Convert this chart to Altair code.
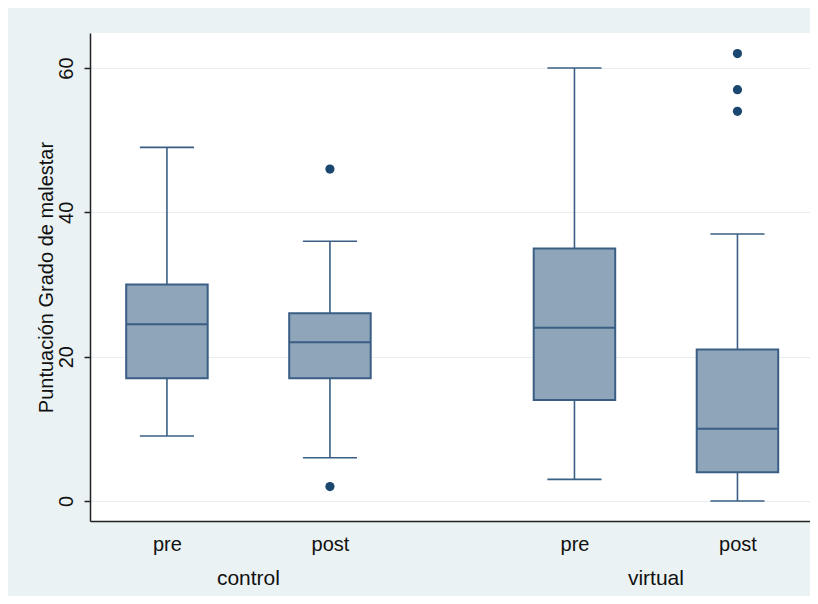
import altair as alt
import pandas as pd

# ---- data ----
groups = ["control", "control", "virtual", "virtual"]
phases = ["pre", "post", "pre", "post"]
positions = [1.0, 2.0, 3.5, 4.5]
whisk_lo = [9, 6, 3, 0]
q1 = [17, 17, 14, 4]
median = [24.5, 22, 24, 10]
q3 = [30, 26, 35, 21]
whisk_hi = [49, 36, 60, 37]
outlier_pos = [2.0, 2.0, 4.5, 4.5, 4.5]
outlier_val = [46, 2, 62, 57, 54]
group_names = ["control", "virtual"]
group_centers = [1.5, 4.0]
y_ticks = [0, 20, 40, 60]

NAVY = "#1a476f"
LINE = "#3a5e84"
FILL = "#8fa5ba"
BG = "#eaf2f3"
FONT = "Liberation Sans"

boxes = pd.DataFrame({
    "group": groups, "phase": phases, "pos": positions,
    "lo": whisk_lo, "q1": q1, "med": median, "q3": q3, "hi": whisk_hi,
})
outs = pd.DataFrame({"pos": outlier_pos, "val": outlier_val})
glab = pd.DataFrame({"name": group_names, "pos": group_centers})

xdom = [0.528, 4.945]
ydom = [-2.77, 64.85]

label_expr = " : ".join(
    f"datum.value == {p} ? '{ph}'" for p, ph in zip(positions, phases)
) + " : ''"

xscale = alt.Scale(domain=xdom, nice=False, zero=False)
yscale = alt.Scale(domain=ydom, nice=False, zero=False)

xenc = alt.X("pos:Q", scale=xscale, axis=alt.Axis(
    values=positions, labelExpr=label_expr, title=None, grid=False,
    ticks=False, tickSize=0, labelPadding=29, labelBaseline="alphabetic",
    labelFontSize=20, labelColor="#111111", labelFont=FONT,
    domainColor="#222222", domainWidth=1.5, labelFlush=False))

base = alt.Chart(boxes).transform_calculate(
    left="datum.pos - 0.25", right="datum.pos + 0.25",
    cl="datum.pos - 0.166", cr="datum.pos + 0.166")

yaxis = alt.Axis(values=y_ticks, title="Puntuación Grado de malestar",
                 grid=True, gridColor="#e6eef0", gridWidth=1.2,
                 tickSize=6, tickColor="#222222", tickWidth=1.5,
                 domainColor="#222222", domainWidth=1.5,
                 labelAngle=270, labelAlign="center", labelBaseline="alphabetic",
                 labelPadding=12, labelFontSize=20, labelColor="#111111",
                 labelFont=FONT, labelFlush=False,
                 titleFont=FONT, titleFontSize=20, titleFontWeight="normal",
                 titleColor="#111111", titleAngle=270, titleBaseline="alphabetic",
                 titleAlign="center", titleX=-38, titleY=244)

whisk_low = base.mark_rule(color=LINE, strokeWidth=1.6).encode(
    x=xenc, y=alt.Y("lo:Q", scale=yscale, axis=yaxis), y2="q1:Q")
whisk_high = base.mark_rule(color=LINE, strokeWidth=1.6).encode(
    x=alt.X("pos:Q", scale=xscale), y=alt.Y("q3:Q", scale=yscale), y2="hi:Q")
cap_low = base.mark_rule(color=LINE, strokeWidth=1.6).encode(
    x=alt.X("cl:Q", scale=xscale), x2="cr:Q", y=alt.Y("lo:Q", scale=yscale))
cap_high = base.mark_rule(color=LINE, strokeWidth=1.6).encode(
    x=alt.X("cl:Q", scale=xscale), x2="cr:Q", y=alt.Y("hi:Q", scale=yscale))
box = base.mark_rect(fill=FILL, stroke=LINE, strokeWidth=2).encode(
    x=alt.X("left:Q", scale=xscale), x2="right:Q",
    y=alt.Y("q1:Q", scale=yscale), y2="q3:Q")
med = base.mark_rule(color=LINE, strokeWidth=2).encode(
    x=alt.X("left:Q", scale=xscale), x2="right:Q", y=alt.Y("med:Q", scale=yscale))
pts = alt.Chart(outs).mark_point(filled=True, shape="circle", size=85,
                                 color=NAVY, opacity=1).encode(
    x=alt.X("pos:Q", scale=xscale), y=alt.Y("val:Q", scale=yscale))
gtext = alt.Chart(glab).mark_text(fontSize=21, font=FONT, color="#111111",
                                  baseline="alphabetic", align="center").encode(
    x=alt.X("pos:Q", scale=xscale), text="name:N", y=alt.value(552))

chart = alt.layer(whisk_low, whisk_high, cap_low, cap_high, box, med, pts, gtext).properties(
    width=720, height=488,
    background=BG,
    padding={"left": 82, "top": 25, "right": 0, "bottom": 75},
    autosize=alt.AutoSizeParams(type="none"),
).configure_view(fill="white", stroke=None)

chart.save("out.html", embed_options={"renderer": "svg", "actions": False})
